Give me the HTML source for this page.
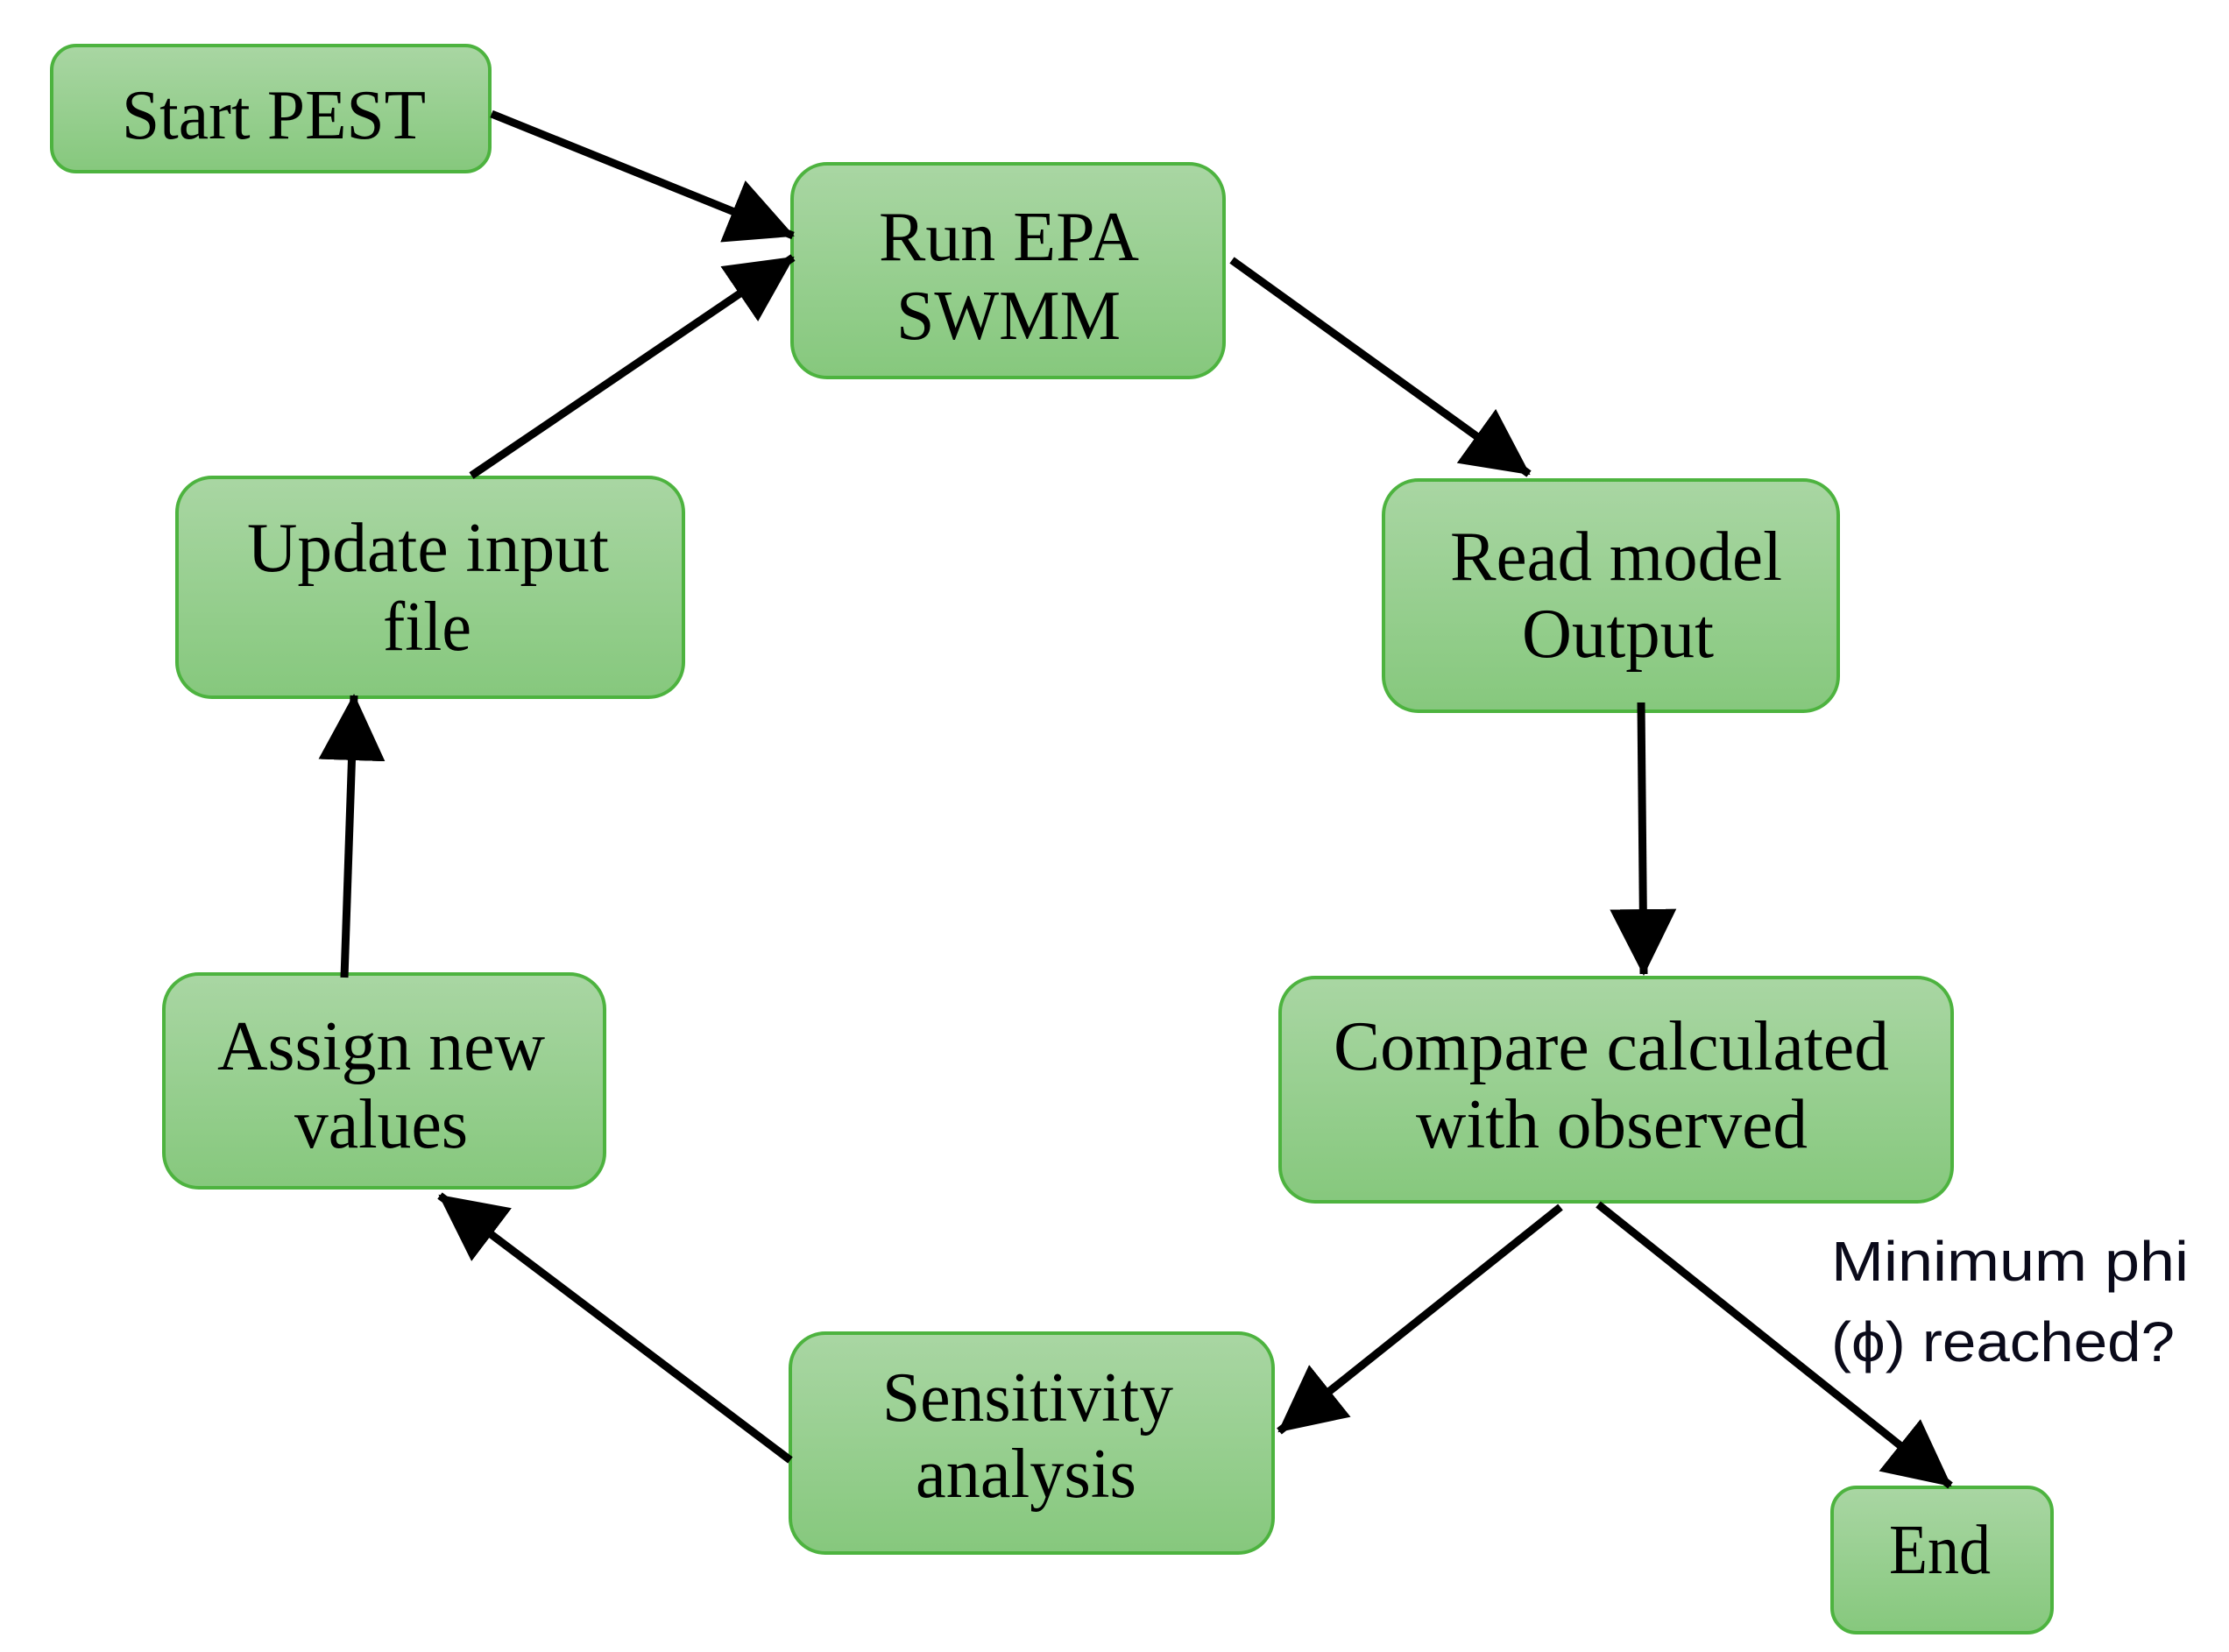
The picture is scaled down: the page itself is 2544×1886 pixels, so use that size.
<!DOCTYPE html>
<html><head><meta charset="utf-8"><style>
html,body{margin:0;padding:0;background:#fff;}
svg{display:block;}
.t{font-family:"Liberation Serif",serif;font-size:80px;fill:#000;text-anchor:start;}
.s{font-family:"Liberation Sans",sans-serif;font-size:64px;fill:#0a0a1a;}
</style></head><body>
<svg width="2544" height="1886" viewBox="0 0 2544 1886" xmlns="http://www.w3.org/2000/svg">
<defs>
<linearGradient id="g" x1="0" y1="0" x2="0" y2="1">
<stop offset="0" stop-color="#a9d6a3"/><stop offset="1" stop-color="#86c87d"/>
</linearGradient>
<marker id="a" markerUnits="userSpaceOnUse" markerWidth="80" markerHeight="80" refX="74" refY="40" orient="auto">
<path d="M0,2 L76,40 L0,78 Z" fill="#000"/>
</marker>
</defs>
<g fill="url(#g)" stroke="#4db33f" stroke-width="4">
<rect x="59" y="52" width="500" height="144" rx="28"/>
<rect x="904" y="187" width="493" height="244" rx="40"/>
<rect x="202" y="545" width="578" height="251" rx="40"/>
<rect x="1579" y="548" width="519" height="264" rx="40"/>
<rect x="187" y="1112" width="503" height="244" rx="40"/>
<rect x="1461" y="1116" width="767" height="256" rx="40"/>
<rect x="902" y="1522" width="551" height="251" rx="40"/>
<rect x="2091" y="1698" width="251" height="166" rx="28"/>
</g>
<g stroke="#000" stroke-width="9" fill="none" marker-end="url(#a)">
<line x1="561" y1="130" x2="905" y2="269"/>
<line x1="538" y1="543" x2="905" y2="294"/>
<line x1="1406" y1="297" x2="1745" y2="541"/>
<line x1="1873" y1="802" x2="1876" y2="1112"/>
<line x1="1781" y1="1378" x2="1460" y2="1634"/>
<line x1="1824" y1="1375" x2="2226" y2="1696"/>
<line x1="902" y1="1667" x2="502" y2="1365"/>
<line x1="393" y1="1116" x2="404" y2="794"/>
</g>
<g class="t">
<text class="t" x="139" y="158" textLength="347" lengthAdjust="spacingAndGlyphs">Start PEST</text>
<text class="t" x="1003" y="297" textLength="297" lengthAdjust="spacingAndGlyphs">Run EPA</text>
<text class="t" x="1023" y="387" textLength="256" lengthAdjust="spacingAndGlyphs">SWMM</text>
<text class="t" x="282" y="652" textLength="413" lengthAdjust="spacingAndGlyphs">Update input</text>
<text class="t" x="437" y="742" textLength="101" lengthAdjust="spacingAndGlyphs">file</text>
<text class="t" x="1655" y="662" textLength="379" lengthAdjust="spacingAndGlyphs">Read model</text>
<text class="t" x="1737" y="750" textLength="219" lengthAdjust="spacingAndGlyphs">Output</text>
<text class="t" x="248" y="1221" textLength="374" lengthAdjust="spacingAndGlyphs">Assign new</text>
<text class="t" x="336" y="1310" textLength="198" lengthAdjust="spacingAndGlyphs">values</text>
<text class="t" x="1522" y="1221" textLength="634" lengthAdjust="spacingAndGlyphs">Compare calculated</text>
<text class="t" x="1616" y="1310" textLength="447" lengthAdjust="spacingAndGlyphs">with observed</text>
<text class="t" x="1007" y="1622" textLength="332" lengthAdjust="spacingAndGlyphs">Sensitivity</text>
<text class="t" x="1045" y="1709" textLength="252" lengthAdjust="spacingAndGlyphs">analysis</text>
<text class="t" x="2156" y="1796" textLength="116" lengthAdjust="spacingAndGlyphs">End</text>
</g>
<text class="s" x="2090" y="1462" textLength="408" lengthAdjust="spacingAndGlyphs">Minimum phi</text>
<text class="s" x="2090" y="1554" textLength="392" lengthAdjust="spacingAndGlyphs">(ϕ) reached?</text>
</svg>
</body></html>
